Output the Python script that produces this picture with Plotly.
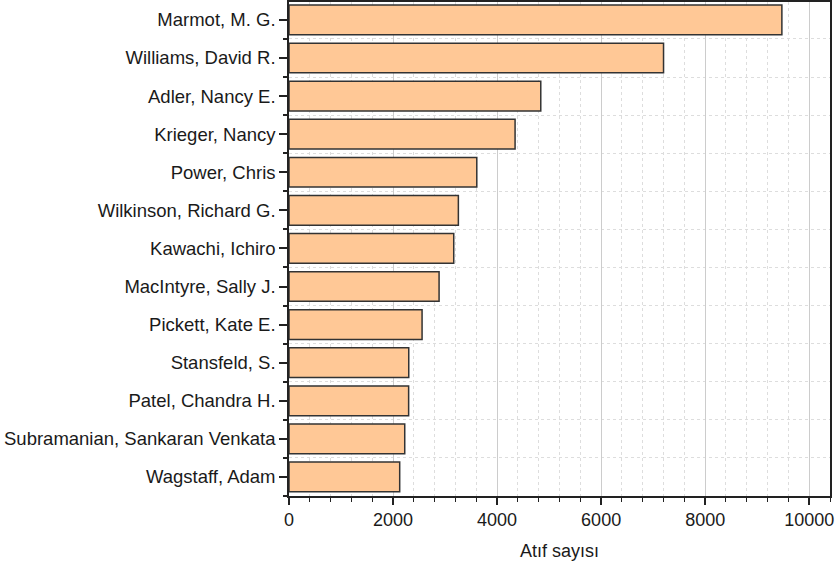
import plotly.graph_objects as go

authors = [
    "Marmot, M. G.",
    "Williams, David R.",
    "Adler, Nancy E.",
    "Krieger, Nancy",
    "Power, Chris",
    "Wilkinson, Richard G.",
    "Kawachi, Ichiro",
    "MacIntyre, Sally J.",
    "Pickett, Kate E.",
    "Stansfeld, S.",
    "Patel, Chandra H.",
    "Subramanian, Sankaran Venkata",
    "Wagstaff, Adam",
]
citations = [9475, 7200, 4840, 4346, 3610, 3256, 3167, 2885, 2558, 2302, 2300, 2225, 2128]
x_tick_vals = [0, 2000, 4000, 6000, 8000, 10000]
x_tick_text = ["0", "2000", "4000", "6000", "8000", "10000"]
x_title = "Atıf sayısı"

positions = list(range(len(authors)))
boundaries = [p + 0.5 for p in range(-1, len(authors))]
x_minor = [v for v in range(0, 10401, 400)]

fig = go.Figure(
    go.Bar(
        x=citations,
        y=positions,
        orientation="h",
        width=0.78,
        marker=dict(color="#FFC896", line=dict(color="#333333", width=1.5)),
    )
)

font_family = "Liberation Sans, Arial, sans-serif"

fig.update_layout(
    width=836,
    height=565,
    margin=dict(l=289, r=6, t=2, b=69),
    plot_bgcolor="white",
    paper_bgcolor="white",
    showlegend=False,
    font=dict(family=font_family, size=18, color="#1a1a1a"),
)

fig.update_xaxes(
    automargin=False,
    range=[0, 10400],
    tickmode="array",
    tickvals=x_tick_vals,
    ticktext=x_tick_text,
    ticks="outside",
    ticklen=7,
    tickwidth=1.5,
    tickcolor="#222222",
    showline=True,
    linecolor="#222222",
    linewidth=1.5,
    mirror=True,
    showgrid=True,
    gridcolor="#cccccc",
    gridwidth=1.2,
    zeroline=False,
    tickfont=dict(size=18),
    title=dict(text=x_title, font=dict(size=18), standoff=15),
    minor=dict(
        tickmode="array",
        tickvals=x_minor,
        ticks="outside",
        ticklen=4,
        tickwidth=1.2,
        tickcolor="#222222",
        showgrid=True,
        gridcolor="#dddddd",
        griddash="dot",
        gridwidth=1,
    ),
)

fig.update_yaxes(
    automargin=False,
    range=[12.5, -0.47],
    tickmode="array",
    tickvals=positions,
    ticktext=authors,
    ticks="outside",
    ticklen=8,
    tickwidth=1.5,
    tickcolor="#222222",
    showline=True,
    linecolor="#222222",
    linewidth=1.5,
    mirror=True,
    showgrid=False,
    zeroline=False,
    tickfont=dict(size=18.5),
    minor=dict(
        tickmode="array",
        tickvals=boundaries,
        ticks="outside",
        ticklen=4,
        tickwidth=1.5,
        tickcolor="#222222",
        showgrid=True,
        gridcolor="#dddddd",
        griddash="dot",
        gridwidth=1,
    ),
)

fig.write_html(
    "out.html",
    config={"displayModeBar": False},
    post_script="document.body.style.margin='0';document.body.style.padding='0';",
)
